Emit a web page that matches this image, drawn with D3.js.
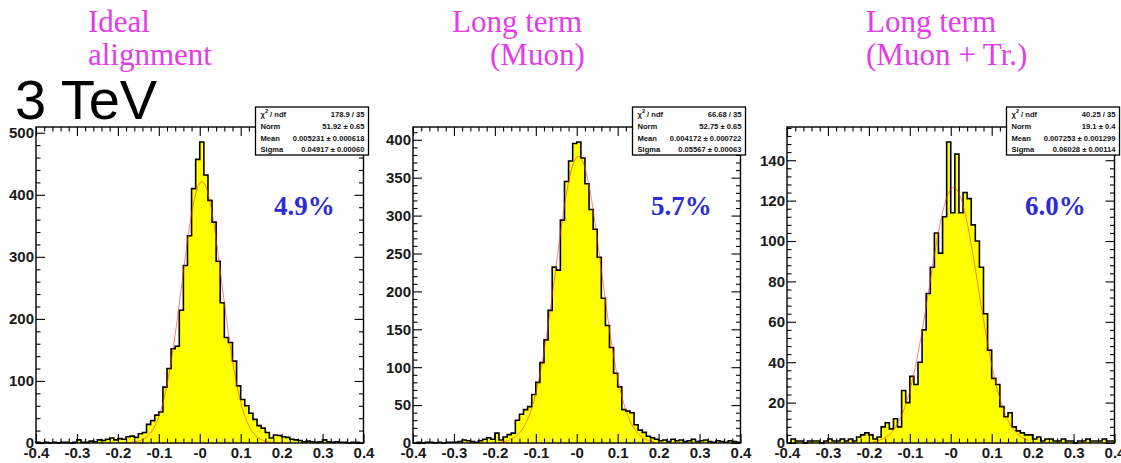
<!DOCTYPE html>
<html>
<head>
<meta charset="utf-8">
<script src="https://cdn.jsdelivr.net/npm/d3@7"></script>
<style>
  html, body { margin: 0; padding: 0; background: #fff; }
  svg { display: block; }
</style>
</head>
<body>
<svg id="chart" width="1121" height="463"></svg>
<script>
// Relative momentum residual histograms, 80 bins from -0.4 to 0.4
const binLo = -0.4;
const binHi = 0.4;
const nBins = 80;

const idealCounts = [
  1, 0, 1, 0, 1, 0, 1, 1, 0, 1,
  5, 1, 1, 3, 2, 5, 4, 6, 8, 5,
  7, 6, 10, 11, 9, 15, 17, 30, 36, 45,
  50, 90, 120, 152, 156, 214, 286, 334, 410, 457,
  485, 432, 391, 356, 293, 226, 170, 162, 132, 92,
  70, 60, 48, 38, 28, 24, 17, 8, 13, 12,
  10, 9, 6, 5, 4, 2, 3, 2, 1, 2,
  5, 2, 1, 2, 1, 1, 0, 1, 1, 0
];

const muonCounts = [
  0, 1, 0, 1, 1, 0, 1, 0, 1, 1,
  1, 2, 4, 3, 2, 1, 3, 5, 7, 5,
  13, 4, 8, 11, 13, 30, 38, 44, 48, 64,
  80, 106, 136, 175, 232, 228, 294, 345, 372, 395,
  397, 376, 342, 308, 282, 245, 191, 155, 126, 92,
  74, 44, 42, 40, 24, 17, 14, 9, 7, 5,
  3, 4, 2, 5, 3, 4, 2, 3, 5, 2,
  3, 4, 2, 1, 3, 2, 1, 3, 2, 1
];

const muonTrackerCounts = [
  0, 2, 1, 1, 0, 1, 1, 1, 0, 1,
  2, 1, 1, 2, 1, 2, 1, 3, 4, 5,
  4, 2, 3, 8, 10, 7, 12, 8, 26, 20,
  33, 29, 40, 56, 74, 87, 104, 94, 112, 149,
  114, 143, 114, 124, 121, 108, 100, 87, 64, 46,
  32, 29, 18, 13, 15, 8, 6, 5, 4, 4,
  2, 3, 1, 2, 2, 1, 1, 2, 1, 1,
  0, 1, 1, 2, 1, 1, 1, 2, 1, 1
];

// Gaussian fit results (Norm = integral)
const fitNorm = [51.92, 52.75, 19.1];
const fitMean = [0.005231, 0.004172, 0.007253];
const fitSigma = [0.04917, 0.05567, 0.06028];
const fitRange = [-0.19, 0.19];

const statNames = ["χ2 / ndf", "Norm", "Mean", "Sigma"];
const statValuesIdeal = ["178.9 / 35", "51.92 ± 0.65", "0.005231 ± 0.000618", "0.04917 ± 0.00060"];
const statValuesMuon = ["66.68 / 35", "52.75 ± 0.65", "0.004172 ± 0.000722", "0.05567 ± 0.00063"];
const statValuesMuonTracker = ["40.25 / 35", "19.1 ± 0.4", "0.007253 ± 0.001299", "0.06028 ± 0.00114"];

const titleLine1 = ["Ideal", "Long term", "Long term"];
const titleLine2 = ["alignment", "(Muon)", "(Muon + Tr.)"];
const resolutionLabels = ["4.9%", "5.7%", "6.0%"];
const energyLabel = "3 TeV";

const xTickValues = [-0.4, -0.3, -0.2, -0.1, 0, 0.1, 0.2, 0.3, 0.4];
const xTickLabels = ["-0.4", "-0.3", "-0.2", "-0.1", "-0", "0.1", "0.2", "0.3", "0.4"];
const yTickValuesIdeal = [0, 100, 200, 300, 400, 500];
const yTickValuesMuon = [0, 50, 100, 150, 200, 250, 300, 350, 400];
const yTickValuesMuonTracker = [0, 20, 40, 60, 80, 100, 120, 140];
const yMinorSteps = [20, 10, 4];

// ---- layout ----
const frameLefts = [36, 413, 787];
const frameWidth = 327.5;
const frameTop = 127;
const frameBottom = 443;

const panels = [
  { counts: idealCounts, stats: statValuesIdeal, yTicks: yTickValuesIdeal, t1x: 88, t2x: 88 },
  { counts: muonCounts, stats: statValuesMuon, yTicks: yTickValuesMuon, t1x: 452, t2x: 490 },
  { counts: muonTrackerCounts, stats: statValuesMuonTracker, yTicks: yTickValuesMuonTracker, t1x: 866, t2x: 866 }
];

const svg = d3.select("#chart");
const axisFont = "'Liberation Sans', Arial, Helvetica, sans-serif";
const serifFont = "'Liberation Serif', 'Times New Roman', serif";

panels.forEach((p, k) => {
  const left = frameLefts[k];
  const right = left + frameWidth;
  const x = d3.scaleLinear().domain([binLo, binHi]).range([left, right]);
  const yMax = 1.05 * d3.max(p.counts);
  const y = d3.scaleLinear().domain([0, yMax]).range([frameBottom, frameTop]);

  const g = svg.append("g");

  // histogram: filled step area plus black contour
  const width = (binHi - binLo) / nBins;
  const pts = p.counts.map((c, i) => [binLo + i * width, c]);
  pts.push([binHi, p.counts[nBins - 1]]);

  const area = d3.area()
    .x(d => x(d[0]))
    .y0(y(0))
    .y1(d => y(d[1]))
    .curve(d3.curveStepAfter);
  g.append("path").attr("d", area(pts)).attr("fill", "#ffff00").attr("stroke", "none");

  const outline = [[binLo, 0]].concat(pts, [[binHi, 0]]);
  const line = d3.line().x(d => x(d[0])).y(d => y(d[1])).curve(d3.curveStepAfter);
  g.append("path").attr("d", line(outline))
    .attr("fill", "none").attr("stroke", "#000").attr("stroke-width", 1.6);

  // Gaussian fit curve
  const amp = fitNorm[k] / (fitSigma[k] * Math.sqrt(2 * Math.PI));
  const xs = d3.range(0, 241).map(i => fitRange[0] + i * (fitRange[1] - fitRange[0]) / 240);
  const fitPts = xs.map(v => [v, amp * Math.exp(-0.5 * Math.pow((v - fitMean[k]) / fitSigma[k], 2))]);
  g.append("path").attr("d", d3.line().x(d => x(d[0])).y(d => y(d[1]))(fitPts))
    .attr("fill", "none").attr("stroke", "#ff2a2a").attr("stroke-width", 1)
    .attr("opacity", 0.6);

  // frame
  g.append("rect").attr("x", left).attr("y", frameTop)
    .attr("width", frameWidth).attr("height", frameBottom - frameTop)
    .attr("fill", "none").attr("stroke", "#000").attr("stroke-width", 1.4);

  // ticks
  const xMinor = d3.range(0, 41).map(i => binLo + i * 0.02)
    .filter(v => Math.abs(Math.round(v * 10) - v * 10) > 1e-6);
  const yStep = yMinorSteps[k];
  const yMinor = d3.range(0, Math.floor(yMax / yStep) + 1).map(i => i * yStep)
    .filter(v => !p.yTicks.includes(v) && v <= yMax);

  const styleAxis = sel => {
    sel.select(".domain").remove();
    sel.selectAll("line").attr("stroke", "#000").attr("stroke-width", 1.1);
    sel.attr("font-family", axisFont).attr("font-size", 15).attr("font-weight", "bold");
    sel.selectAll("text").attr("fill", "#1a1a1a");
  };

  g.append("g").attr("transform", `translate(0,${frameBottom})`)
    .call(d3.axisBottom(x).tickValues(xTickValues).tickSize(-9).tickPadding(4)
      .tickFormat((d, i) => xTickLabels[i]))
    .call(styleAxis);
  g.append("g").attr("transform", `translate(0,${frameBottom})`)
    .call(d3.axisBottom(x).tickValues(xMinor).tickSize(-4.5).tickFormat(""))
    .call(styleAxis);
  g.append("g").attr("transform", `translate(0,${frameTop})`)
    .call(d3.axisTop(x).tickValues(xTickValues).tickSize(-9).tickFormat(""))
    .call(styleAxis);
  g.append("g").attr("transform", `translate(0,${frameTop})`)
    .call(d3.axisTop(x).tickValues(xMinor).tickSize(-4.5).tickFormat(""))
    .call(styleAxis);

  g.append("g").attr("transform", `translate(${left},0)`)
    .call(d3.axisLeft(y).tickValues(p.yTicks).tickSize(-9).tickPadding(2)
      .tickFormat(d3.format("d")))
    .call(styleAxis);
  g.append("g").attr("transform", `translate(${left},0)`)
    .call(d3.axisLeft(y).tickValues(yMinor).tickSize(-4.5).tickFormat(""))
    .call(styleAxis);
  g.append("g").attr("transform", `translate(${right},0)`)
    .call(d3.axisRight(y).tickValues(p.yTicks).tickSize(-9).tickFormat(""))
    .call(styleAxis);
  g.append("g").attr("transform", `translate(${right},0)`)
    .call(d3.axisRight(y).tickValues(yMinor).tickSize(-4.5).tickFormat(""))
    .call(styleAxis);

  // fit statistics box
  const bx = right - 108, by = 107, bw = 113, bh = 48;
  g.append("rect").attr("x", bx).attr("y", by).attr("width", bw).attr("height", bh)
    .attr("fill", "#fff").attr("stroke", "#000").attr("stroke-width", 1.3);
  const rowY = [114, 126, 138, 149.5];
  statNames.forEach((name, r) => {
    const t = g.append("text").attr("x", bx + 5).attr("y", rowY[r] + 2.8)
      .attr("font-family", axisFont).attr("font-size", 7.6).attr("font-weight", "bold")
      .attr("fill", "#111");
    if (r === 0) {
      t.append("tspan").text("χ");
      t.append("tspan").attr("font-size", 5.5).attr("dy", -3.5).text("2");
      t.append("tspan").attr("dy", 3.5).text(" / ndf");
    } else {
      t.text(name);
    }
    g.append("text").attr("x", bx + bw - 4).attr("y", rowY[r] + 2.8)
      .attr("text-anchor", "end")
      .attr("font-family", axisFont).attr("font-size", 7.6).attr("font-weight", "bold")
      .attr("fill", "#111")
      .text(p.stats[r]);
  });

  // resolution label
  g.append("text").attr("x", left + 238).attr("y", 215)
    .attr("font-family", serifFont).attr("font-weight", "bold").attr("font-size", 27)
    .attr("fill", "#2b2bd8").text(resolutionLabels[k]);

  // titles
  g.append("text").attr("x", p.t1x).attr("y", 32)
    .attr("font-family", serifFont).attr("font-size", 31).attr("fill", "#e23de6")
    .text(titleLine1[k]);
  g.append("text").attr("x", p.t2x).attr("y", 65)
    .attr("font-family", serifFont).attr("font-size", 31).attr("fill", "#e23de6")
    .text(titleLine2[k]);
});

svg.append("text").attr("x", 15).attr("y", 119)
  .attr("font-family", axisFont).attr("font-size", 56).attr("fill", "#000")
  .text(energyLabel);
</script>
</body>
</html>
